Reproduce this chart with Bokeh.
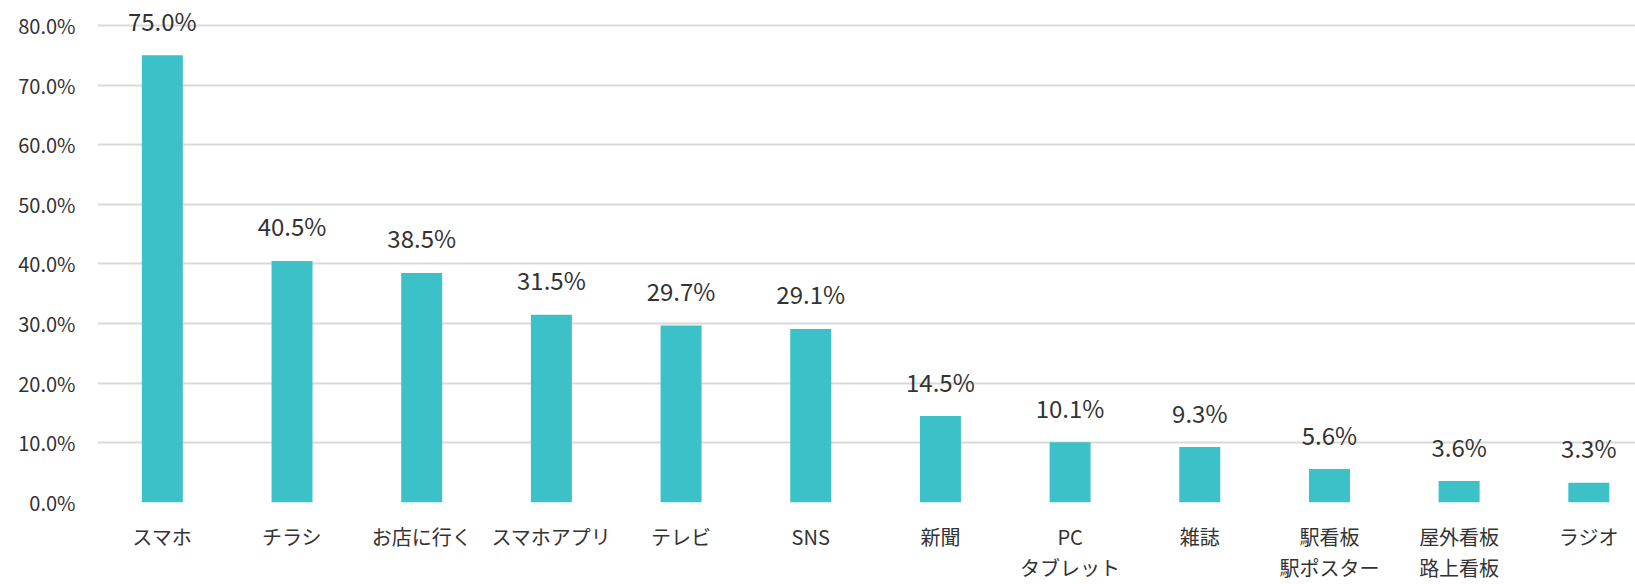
from bokeh.plotting import figure
from bokeh.models import ColumnDataSource, Range1d, LinearAxis, FixedTicker, PrintfTickFormatter
from bokeh.core.properties import value
from bokeh.embed import file_html
from bokeh.resources import INLINE

categories = ["スマホ", "チラシ", "お店に行く", "スマホアプリ", "テレビ", "SNS", "新聞",
              "PC", "雑誌", "駅看板", "屋外看板", "ラジオ"]
second_line = ["", "", "", "", "", "", "", "タブレット", "", "駅ポスター", "路上看板", ""]
values = [75.0, 40.5, 38.5, 31.5, 29.7, 29.1, 14.5, 10.1, 9.3, 5.6, 3.6, 3.3]
y_ticks = [0, 10, 20, 30, 40, 50, 60, 70, 80]

FONT = "Noto Sans CJK JP"
TXT = "#333333"

idx = list(range(len(categories)))
src = ColumnDataSource(dict(x=idx, v=values, lab=[f"{v:.1f}%" for v in values]))

p = figure(width=1635, height=584, output_backend="svg", toolbar_location=None,
           x_range=Range1d(-0.5, 11.36), y_range=Range1d(0, 84.18),
           min_border_left=97, min_border_right=0, min_border_top=0, min_border_bottom=80,
           x_axis_location=None)
p.outline_line_color = None
p.background_fill_color = "white"
p.border_fill_color = "white"

p.vbar(x="x", top="v", width=0.316, source=src, fill_color="#3DC1C8", line_color=None)
p.text(x="x", y="v", text="lab", source=src, text_align="center", text_baseline="middle",
       y_offset=-35, text_font_size="24px", text_color=TXT, text_font=value(FONT))

# y axis
yax = p.yaxis[0]
yax.ticker = FixedTicker(ticks=y_ticks)
yax.formatter = PrintfTickFormatter(format="%.1f%%")
yax.axis_line_color = None
yax.major_tick_line_color = None
yax.minor_tick_line_color = None
yax.major_label_text_font = FONT
yax.major_label_text_font_size = "20px"
yax.major_label_text_color = TXT
yax.major_label_standoff = 16

p.xgrid.grid_line_color = None
p.ygrid.ticker = FixedTicker(ticks=y_ticks)
p.ygrid.grid_line_color = "#d9d9d9"
p.ygrid.grid_line_width = 2

def make_axis(labels, standoff):
    ax = LinearAxis(ticker=FixedTicker(ticks=idx),
                    major_label_overrides={i: (t if t else " ") for i, t in zip(idx, labels)})
    ax.axis_line_color = None
    ax.major_tick_line_color = None
    ax.minor_tick_line_color = None
    ax.major_label_text_font = FONT
    ax.major_label_text_font_size = "20px"
    ax.major_label_text_color = TXT
    ax.major_label_standoff = standoff
    return ax

p.add_layout(make_axis(categories, 13), "below")
p.add_layout(make_axis(second_line, -7), "below")

open("out.html", "w").write(file_html(p, INLINE))
